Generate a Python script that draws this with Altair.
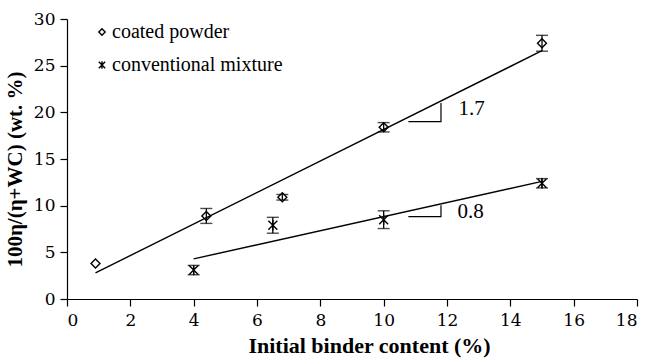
import altair as alt
import pandas as pd

# ---- data ----
coated_x = [0.9, 4.4, 6.8, 10.0, 15.0]
coated_y = [3.8, 8.9, 10.9, 18.4, 27.4]
coated_err = [0.0, 0.8, 0.3, 0.5, 0.85]

conv_x = [4.0, 6.5, 10.0, 15.0]
conv_y = [3.1, 7.9, 8.5, 12.4]
conv_err = [0.5, 0.85, 0.95, 0.5]

fit_coated_x = [0.9, 15.0]
fit_coated_y = [2.8, 26.6]
fit_conv_x = [4.0, 15.0]
fit_conv_y = [4.3, 12.6]

tri_coated_x = [10.78, 11.81, 11.81]
tri_coated_y = [19.0, 19.0, 21.0]
tri_conv_x = [10.78, 11.81, 11.81]
tri_conv_y = [8.82, 8.82, 10.05]

slope_labels = ["1.7", "0.8"]
slope_label_x = [12.36, 12.33]
slope_label_y = [20.36, 9.29]

series_names = ["coated powder", "conventional mixture"]
x_ticks = list(range(0, 19))
y_ticks = [0, 5, 10, 15, 20, 25, 30]

FONT = "Times New Roman"
TICK_FONT = "DejaVu Serif"
STAR = "M-1,-1L1,1M-1,1L1,-1M0,-1.15L0,1.15"

# ---- tables ----
pts = pd.DataFrame(
    {"x": coated_x + conv_x,
     "y": coated_y + conv_y,
     "err": coated_err + conv_err,
     "series": [series_names[0]] * len(coated_x) + [series_names[1]] * len(conv_x)}
)
pts["lo"] = pts["y"] - pts["err"]
pts["hi"] = pts["y"] + pts["err"]
errs = pts[pts["err"] > 0].copy()

fits = pd.DataFrame(
    {"x": fit_coated_x + fit_conv_x,
     "y": fit_coated_y + fit_conv_y,
     "g": ["a"] * 2 + ["b"] * 2,
     "o": [0, 1, 0, 1]}
)
tris = pd.DataFrame(
    {"x": tri_coated_x + tri_conv_x,
     "y": tri_coated_y + tri_conv_y,
     "g": ["a"] * 3 + ["b"] * 3,
     "o": [0, 1, 2, 0, 1, 2]}
)
labs = pd.DataFrame({"x": slope_label_x, "y": slope_label_y, "t": slope_labels})

xs = alt.Scale(domain=[0, 18], nice=False, zero=False)
ys = alt.Scale(domain=[0, 30], nice=False, zero=False)

X = alt.X(
    "x:Q", scale=xs,
    axis=alt.Axis(
        values=x_ticks, labelExpr="datum.value % 2 == 0 ? datum.label : ''",
        title="Initial binder content (%)", grid=False,
        tickSize=7, labelPadding=6, titleX=302, titleY=36,
        labelFont=TICK_FONT, labelFontSize=17, labelColor="black",
        titleFont=FONT, titleFontSize=22, titleFontWeight="bold", titleColor="black",
    ),
)
Y = alt.Y(
    "y:Q", scale=ys,
    axis=alt.Axis(
        values=y_ticks, title="100η/(η+WC) (wt. %)", grid=False,
        tickSize=7, labelPadding=5, titleX=-52, titleY=150, titleAngle=270,
        titleAlign="center", titleBaseline="middle",
        labelFont=TICK_FONT, labelFontSize=17, labelColor="black",
        titleFont=FONT, titleFontSize=21, titleFontWeight="bold", titleColor="black",
    ),
)

lines = alt.Chart(fits).mark_line(color="black", strokeWidth=1.4).encode(
    x=X, y=Y, detail="g:N", order="o:Q"
)
triangles = alt.Chart(tris).mark_line(color="black", strokeWidth=1.2).encode(
    x="x:Q", y="y:Q", detail="g:N", order="o:Q"
)
rules = alt.Chart(errs).mark_rule(color="black", strokeWidth=1.3).encode(
    x="x:Q", y="lo:Q", y2="hi:Q"
)
caps_lo = alt.Chart(errs).mark_tick(color="black", orient="horizontal", size=12, thickness=1.4).encode(
    x="x:Q", y="lo:Q"
)
caps_hi = alt.Chart(errs).mark_tick(color="black", orient="horizontal", size=12, thickness=1.4).encode(
    x="x:Q", y="hi:Q"
)
points = alt.Chart(pts).mark_point(color="black", filled=False, size=80, strokeWidth=1.4, opacity=1).encode(
    x="x:Q", y="y:Q",
    shape=alt.Shape(
        "series:N",
        scale=alt.Scale(domain=series_names, range=["diamond", STAR]),
        legend=alt.Legend(
            title=None, orient="none", legendX=25, legendY=3,
            symbolSize=40, symbolStrokeColor="black", symbolFillColor="transparent",
            symbolStrokeWidth=1.4, labelFont=FONT, labelFontSize=20, labelColor="black",
            labelOffset=0, rowPadding=13, padding=0, labelLimit=0,
        ),
    ),
)
texts = alt.Chart(labs).mark_text(
    font=FONT, fontSize=21, color="black", align="left", baseline="middle"
).encode(x="x:Q", y="y:Q", text="t:N")

chart = (
    alt.layer(lines, triangles, rules, caps_lo, caps_hi, points, texts)
    .properties(
        width=570, height=280,
        autosize=alt.AutoSizeParams(type="none"),
        padding={"left": 67, "top": 19, "right": 18, "bottom": 63},
    )
    .configure_view(stroke=None)
    .configure_axis(
        domainColor="black", tickColor="black", domainWidth=1.2, tickWidth=1.2,
    )
)

chart.save("out.html", embed_options={"renderer": "svg", "actions": False})
